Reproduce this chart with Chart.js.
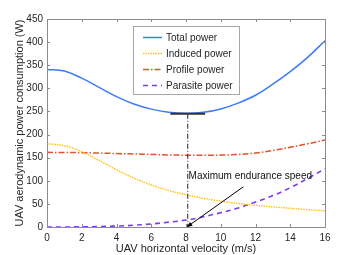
<!DOCTYPE html>
<html><head><meta charset="utf-8">
<script src="https://cdn.jsdelivr.net/npm/chart.js@4/dist/chart.umd.min.js"></script>
<style>html,body{margin:0;padding:0;background:#fff}canvas{display:block}</style>
</head><body>
<canvas id="c" width="360" height="255"></canvas>
<script>
const velocity=[0,1,2,3,4,5,6,7,8,9,10,11,12,13,14,15,16];
const totalPower=[341,337.5,322,302,282,266,255,248.5,246,248,255.5,268,285,309,336,367,403];
const inducedPower=[180,176,163,144,124,106,91,79,70,62,56,51,47,43.5,40.5,37.5,35];
const profilePower=[161.5,161.3,160.8,160,159,158,157,156,155.3,155,155.5,157,160,165.5,172.5,180,188];
const parasitePower=[0,0.1,0.3,0.9,2,3.8,6.6,10.5,15,22,31,41,54,68,85,105,126];
const seriesNames=['Total power','Induced power','Profile power','Parasite power'];
const xTicks=[0,2,4,6,8,10,12,14,16];
const yTicks=[0,50,100,150,200,250,300,350,400,450];
const xTitle='UAV horizontal velocity (m/s)';
const yTitle='UAV aerodynamic power consumption (W)';
const optimalSpeed=8.1, minTotal=245, barFrom=7.1, barTo=9.1;
const arrowFrom=[11.3,87], arrowTo=[8.05,0];
const annotationText='Maximum endurance speed', annotationAt=[8.15,110];

const colors=['#3d7bf5','#ffc20e','#e8502a','#7a3cf0'];
const dashes=[[],[1.5,1],[6,2,1.5,2],[5,4]];
const widths=[1.5,1.4,1.5,1.6];
const FONT='"Liberation Sans", Arial, sans-serif';
const values=[totalPower,inducedPower,profilePower,parasitePower];

const datasets=values.map((arr,i)=>({
  label:seriesNames[i],
  data:arr.map((y,k)=>({x:velocity[k],y})),
  borderColor:colors[i],borderWidth:widths[i],borderDash:dashes[i],
  pointRadius:0,fill:false,tension:0.4
}));

const decor={
  id:'decor',
  afterDatasetsDraw(chart){
    const ctx=chart.ctx, a=chart.chartArea, xs=chart.scales.x, ys=chart.scales.y;
    ctx.save();
    ctx.strokeStyle='#222';ctx.lineWidth=1;ctx.setLineDash([5,2,1,2]);
    ctx.beginPath();ctx.moveTo(xs.getPixelForValue(optimalSpeed),ys.getPixelForValue(minTotal));
    ctx.lineTo(xs.getPixelForValue(optimalSpeed),ys.getPixelForValue(0));ctx.stroke();
    ctx.setLineDash([]);ctx.lineWidth=2.2;ctx.strokeStyle='#333';
    ctx.beginPath();ctx.moveTo(xs.getPixelForValue(barFrom),ys.getPixelForValue(minTotal));
    ctx.lineTo(xs.getPixelForValue(barTo),ys.getPixelForValue(minTotal));ctx.stroke();
    const x1=xs.getPixelForValue(arrowFrom[0]),y1=ys.getPixelForValue(arrowFrom[1]);
    const x2=xs.getPixelForValue(arrowTo[0]),y2=ys.getPixelForValue(arrowTo[1]);
    ctx.lineWidth=1;ctx.strokeStyle='#000';ctx.fillStyle='#000';
    ctx.beginPath();ctx.moveTo(x1,y1);ctx.lineTo(x2,y2);ctx.stroke();
    const ang=Math.atan2(y2-y1,x2-x1);
    ctx.beginPath();ctx.moveTo(x2,y2);
    ctx.lineTo(x2-6*Math.cos(ang-0.4),y2-6*Math.sin(ang-0.4));
    ctx.lineTo(x2-6*Math.cos(ang+0.4),y2-6*Math.sin(ang+0.4));ctx.closePath();ctx.fill();
    ctx.font='10px '+FONT;ctx.fillStyle='#111';ctx.textBaseline='middle';ctx.textAlign='left';
    ctx.fillText(annotationText,xs.getPixelForValue(annotationAt[0]),ys.getPixelForValue(annotationAt[1]));
    ctx.strokeStyle='#8c8c8c';ctx.lineWidth=1;
    ctx.strokeRect(Math.round(a.left)+0.5,Math.round(a.top)+0.5,Math.round(a.right-a.left),Math.round(a.bottom-a.top));
    ctx.beginPath();
    xTicks.forEach(v=>{const p=Math.round(xs.getPixelForValue(v))+0.5;
      ctx.moveTo(p,a.bottom);ctx.lineTo(p,a.bottom-3);ctx.moveTo(p,a.top);ctx.lineTo(p,a.top+3);});
    yTicks.forEach(v=>{const p=Math.round(ys.getPixelForValue(v))+0.5;
      ctx.moveTo(a.left,p);ctx.lineTo(a.left+3,p);ctx.moveTo(a.right,p);ctx.lineTo(a.right-3,p);});
    ctx.stroke();
    const lx=133.5,ly=26.5,lw=106,lh=68;
    ctx.fillStyle='#fff';ctx.fillRect(lx,ly,lw,lh);
    ctx.strokeStyle='#a6a6a6';ctx.strokeRect(lx,ly,lw,lh);
    seriesNames.forEach((n,i)=>{
      const yy=37.5+i*16;
      ctx.strokeStyle=colors[i];ctx.lineWidth=widths[i];ctx.setLineDash(dashes[i]);
      ctx.beginPath();ctx.moveTo(143,yy);ctx.lineTo(162,yy);ctx.stroke();ctx.setLineDash([]);
      ctx.fillStyle='#262626';ctx.font='10px '+FONT;ctx.textAlign='left';ctx.textBaseline='middle';
      ctx.fillText(n,166,yy+0.5);
    });
    ctx.fillStyle='#262626';ctx.font='11px '+FONT;ctx.textAlign='center';ctx.textBaseline='middle';
    ctx.fillText(xTitle,(a.left+a.right)/2,249);
    ctx.translate(20,(a.top+a.bottom)/2);ctx.rotate(-Math.PI/2);
    ctx.fillText(yTitle,0,0);
    ctx.restore();
  }
};

new Chart(document.getElementById('c'),{
  type:'line',
  data:{datasets},
  options:{
    responsive:false,animation:false,
    layout:{padding:{left:0,right:35,top:19,bottom:0}},
    plugins:{legend:{display:false},tooltip:{enabled:false}},
    scales:{
      x:{type:'linear',min:0,max:16,
        afterBuildTicks(s){s.ticks=xTicks.map(v=>({value:v}));},
        afterFit(s){s.height=28;},
        grid:{display:false,drawTicks:false},border:{display:false},
        ticks:{padding:5,color:'#262626',font:{size:10,family:FONT},maxRotation:0}},
      y:{type:'linear',min:0,max:450,
        afterBuildTicks(s){s.ticks=yTicks.map(v=>({value:v}));},
        afterFit(s){s.width=47;},
        grid:{display:false,drawTicks:false},border:{display:false},
        ticks:{padding:4,color:'#262626',font:{size:10,family:FONT}}}
    }
  },
  plugins:[decor]
});
</script>
</body></html>
